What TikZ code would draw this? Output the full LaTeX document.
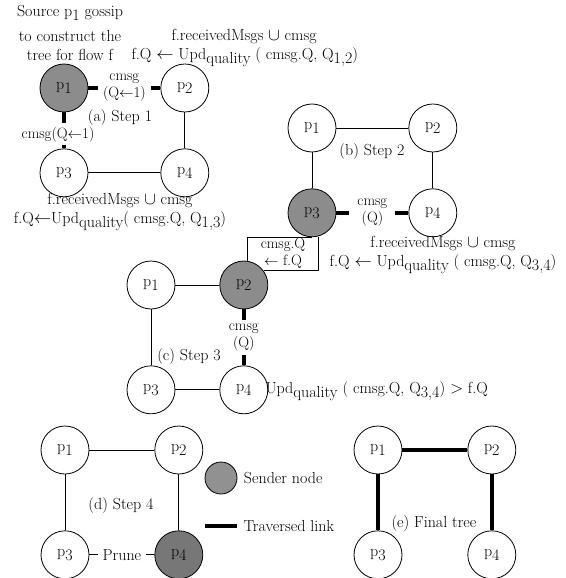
\documentclass[tikz,border=0pt]{standalone}
\usepackage{amsmath}
\usepackage{amssymb}
\usepackage{tikz}
\usepackage{xcolor}
\usetikzlibrary{positioning}
\newcommand{\lowsub}[1]{\raisebox{-0.55ex}{#1}}
\definecolor{sendergray}{HTML}{8C8C8C}
\definecolor{legendgray}{HTML}{919191}
\definecolor{prunegray}{HTML}{777777}
\tikzset{
    peer-node/.style = {draw, circle, fill=white, minimum size=48pt, inner sep=0pt, line width=0.8pt},
    sender-node/.style = {peer-node, fill=sendergray},
    plain-link/.style = {line width=0.9pt},
    traversed-link/.style = {line width=3.5pt},
    link-label/.style = {fill=white, align=center, inner sep=3.5pt, font=\fontsize{15}{17}\selectfont},
}

\begin{document}
\begin{tikzpicture}[x=1pt, y=1pt, font=\fontsize{16}{19}\selectfont]
\useasboundingbox (0,0) rectangle (565,-578);

% (a) step 1
\node[sender-node] (ap1) at (64,-88) {p\lowsub{1}};
\node[peer-node, right=72pt of ap1] (ap2) {p\lowsub{2}};
\node[peer-node, below=36pt of ap1] (ap3) {p\lowsub{3}};
\node[peer-node, below=36pt of ap2] (ap4) {p\lowsub{4}};
\draw[traversed-link] (ap1) -- node[link-label, inner xsep=5pt] (a-msg12) {cmsg\\(Q$\leftarrow$1)} (ap2);
\draw[traversed-link] (ap1) -- node[link-label, xshift=-6pt, yshift=-4pt] (a-msg13) {cmsg(Q$\leftarrow$1)} (ap3);
\draw[plain-link] (ap2) -- (ap4);
\draw[plain-link] (ap3) -- (ap4);
\node (a-caption) at (120,-118) {(a) Step 1};
\node (source-note) at (70,-13) {Source p\lowsub{1} gossip};
\node[align=center] (flow-note) at (70,-46) {to construct the\\tree for flow f};
\node[anchor=west] (a-recv) at (168,-37) {f.receivedMsgs $\cup$ cmsg};
\node[anchor=west] (a-upd) at (128,-57) {f.Q $\leftarrow$ Upd\lowsub{quality} ( cmsg.Q, Q\lowsub{1,2})};
\node[align=center] (a-update) at (120,-212) {f.receivedMsgs $\cup$ cmsg\\f.Q$\leftarrow$Upd\lowsub{quality}( cmsg.Q, Q\lowsub{1,3})};

% (b) step 2
\node[peer-node] (bp1) at (312,-128) {p\lowsub{1}};
\node[peer-node, right=72pt of bp1] (bp2) {p\lowsub{2}};
\node[sender-node, below=36pt of bp1] (bp3) {p\lowsub{3}};
\node[peer-node, below=36pt of bp2] (bp4) {p\lowsub{4}};
\draw[plain-link] (bp1) -- (bp2);
\draw[plain-link] (bp1) -- (bp3);
\draw[plain-link] (bp2) -- (bp4);
\draw[traversed-link] (bp3) -- node[link-label, inner xsep=8pt] (b-msg34) {cmsg\\(Q)} (bp4);
\node (b-caption) at (372,-152) {(b) Step 2};
\node[align=center] (b-update) at (443,-255) {f.receivedMsgs $\cup$ cmsg\\f.Q $\leftarrow$ Upd\lowsub{quality} ( cmsg.Q, Q\lowsub{3,4})};

% (c) step 3
\node[peer-node] (cp1) at (151,-285) {p\lowsub{1}};
\node[sender-node, right=44pt of cp1] (cp2) {p\lowsub{2}};
\node[peer-node, below=56pt of cp1] (cp3) {p\lowsub{3}};
\node[peer-node, below=56pt of cp2] (cp4) {p\lowsub{4}};
\draw[plain-link] (bp3.south) -| ([xshift=4pt]cp2.north);
\draw[plain-link] ([xshift=6pt]bp3.south) |- (cp2.36);
\node[font=\fontsize{15}{17}\selectfont, align=center] (box-note) at (283,-253) {cmsg.Q\\$\leftarrow$ f.Q};
\draw[plain-link] (cp1) -- (cp2);
\draw[plain-link] (cp1) -- (cp3);
\draw[plain-link] (cp3) -- (cp4);
\draw[traversed-link] (cp2) -- node[link-label] (c-msg24) {cmsg\\(Q)} (cp4);
\node (c-caption) at (189,-357) {(c) Step 3};
\node[anchor=west] (c-cond) at (262,-391) {Upd\lowsub{quality} ( cmsg.Q, Q\lowsub{3,4}) $>$ f.Q};

% (d) step 4
\node[peer-node] (dp1) at (65,-450) {p\lowsub{1}};
\node[peer-node, right=65pt of dp1] (dp2) {p\lowsub{2}};
\node[peer-node, below=56pt of dp1] (dp3) {p\lowsub{3}};
\node[peer-node, fill=prunegray, below=56pt of dp2] (dp4) {p\lowsub{4}};
\draw[plain-link] (dp1) -- (dp2);
\draw[plain-link] (dp1) -- (dp3);
\draw[plain-link] (dp2) -- (dp4);
\draw[plain-link] (dp3) -- node[link-label, font=\fontsize{16}{19}\selectfont, inner xsep=4.5pt] (prune) {Prune} (dp4);
\node (d-caption) at (121,-506) {(d) Step 4};

% legend
\node[peer-node, fill=legendgray, minimum size=32pt] (sender-key) at (221,-478) {};
\node[right=3pt of sender-key] (sender-text) {Sender node};
\coordinate (link-start) at (205,-526);
\coordinate (link-end) at (237,-526);
\draw[traversed-link] (link-start) -- (link-end);
\node[anchor=west] (link-text) at (240,-526) {Traversed link};

% (e) final tree
\node[peer-node] (ep1) at (378,-450) {p\lowsub{1}};
\node[peer-node, right=65pt of ep1] (ep2) {p\lowsub{2}};
\node[peer-node, below=56pt of ep1] (ep3) {p\lowsub{3}};
\node[peer-node, below=56pt of ep2] (ep4) {p\lowsub{4}};
\draw[traversed-link] (ep1) -- (ep2);
\draw[traversed-link] (ep1) -- (ep3);
\draw[traversed-link] (ep2) -- (ep4);
\node (e-caption) at (434,-524) {(e) Final tree};
\end{tikzpicture}
\end{document}
